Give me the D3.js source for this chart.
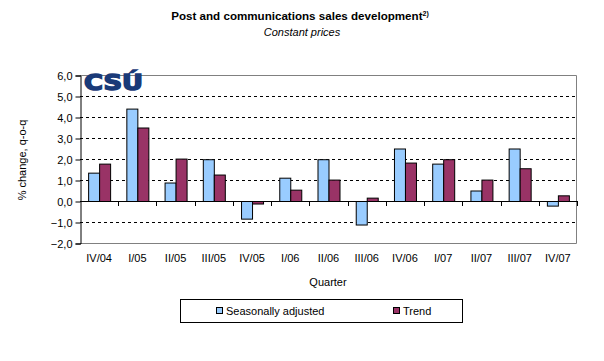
<!DOCTYPE html>
<html>
<head>
<meta charset="utf-8">
<script src="https://cdn.jsdelivr.net/npm/d3@7"></script>
<style>
  body { margin: 0; background: #fff; }
  text { font-family: "Liberation Sans", Arial, sans-serif; fill: #000; }
</style>
</head>
<body>
<svg id="chart" width="604" height="361"></svg>
<script>
const quarters = ['IV/04', 'I/05', 'II/05', 'III/05', 'IV/05', 'I/06', 'II/06', 'III/06', 'IV/06', 'I/07', 'II/07', 'III/07', 'IV/07']
const seasonal = [1.35, 4.4, 0.88, 1.99, -0.84, 1.11, 1.99, -1.12, 2.5, 1.78, 0.5, 2.5, -0.22]
const trend = [1.78, 3.5, 2.02, 1.26, -0.12, 0.54, 1.02, 0.16, 1.83, 1.99, 1.02, 1.56, 0.27]
const yTicks = [-2, -1, 0, 1, 2, 3, 4, 5, 6]
const seriesNames = ['Seasonally adjusted', 'Trend']
const colors = ['#99ccff', '#993366']

const svg = d3.select('#chart')
const plotL = 80, plotR = 577, plotT = 75, plotB = 243

const x = d3.scaleBand().domain(quarters).range([plotL, plotR])
const y = d3.scaleLinear().domain([-2, 6]).range([plotB, plotT])
const barW = 11

// titles
svg.append('text').attr('x', 300).attr('y', 20).attr('text-anchor', 'middle')
  .style('font-size', '11.6px').style('font-weight', 'bold')
  .text('Post and communications sales development')
  .append('tspan').attr('dy', -4).style('font-size', '7px').text('2)')
svg.append('text').attr('x', 302).attr('y', 36).attr('text-anchor', 'middle')
  .style('font-size', '11px').style('font-style', 'italic').text('Constant prices')

// gridlines
svg.selectAll('.grid').data(yTicks.filter(d => d !== 0 && d !== -2 && d !== 6))
  .enter().append('line')
  .attr('x1', plotL).attr('x2', plotR)
  .attr('y1', d => y(d) + 0.5).attr('y2', d => y(d) + 0.5)
  .attr('stroke', '#000').attr('stroke-dasharray', '3,3')

// frame top / right / bottom (grey)
svg.append('path')
  .attr('d', `M${plotL},${plotT + 0.5}H${plotR - 0.5}V${plotB + 0.5}H${plotL}`)
  .attr('fill', 'none').attr('stroke', '#808080')

// logo
svg.append('text').attr('x', 84).attr('y', 90)
  .attr('textLength', 59).attr('lengthAdjust', 'spacingAndGlyphs')
  .style('font-family', '"DejaVu Sans", sans-serif').style('font-weight', 'bold')
  .style('font-size', '22px').style('fill', '#1a3a78')
  .attr('stroke', '#1a3a78').attr('stroke-width', 1.5).text('CSÚ')

// bars
const series = [seasonal, trend]
series.forEach(function(vals, si){
  svg.selectAll('.bar' + si).data(vals).enter().append('rect')
    .attr('x', (d, i) => x(quarters[i]) + x.bandwidth() / 2 - barW + si * barW + 0.5)
    .attr('y', d => y(Math.max(0, d)) + 0.5)
    .attr('width', barW)
    .attr('height', d => Math.abs(y(d) - y(0)))
    .attr('fill', colors[si]).attr('stroke', '#000')
})

// y axis
const yAxis = svg.append('g').attr('transform', `translate(${plotL + 0.5},0.5)`)
  .call(d3.axisLeft(y).tickValues(yTicks).tickSize(5).tickFormat(d => d3.format('.1f')(d).replace('.', ',')))
yAxis.select('.domain').attr('stroke', '#000')
yAxis.selectAll('text').style('font-size', '11px').style('font-family', '"Liberation Sans", Arial, sans-serif').attr('x', -8)

// zero line with ticks below
svg.append('line').attr('x1', plotL).attr('x2', plotR)
  .attr('y1', y(0) + 0.5).attr('y2', y(0) + 0.5).attr('stroke', '#000')
svg.selectAll('.xt').data(quarters.slice(1).concat(['end'])).enter().append('line')
  .attr('x1', (d, i) => Math.round(plotL + (i + 1) * x.step()) + 0.5)
  .attr('x2', (d, i) => Math.round(plotL + (i + 1) * x.step()) + 0.5)
  .attr('y1', y(0)).attr('y2', y(0) + 5).attr('stroke', '#000')

// category labels
svg.selectAll('.cat').data(quarters).enter().append('text')
  .attr('x', d => x(d) + x.bandwidth() / 2).attr('y', 262)
  .attr('text-anchor', 'middle').style('font-size', '11px').text(d => d)

svg.append('text').attr('x', 328).attr('y', 286).attr('text-anchor', 'middle')
  .style('font-size', '11px').text('Quarter')

svg.append('text').attr('transform', 'translate(26,160) rotate(-90)')
  .attr('text-anchor', 'middle').style('font-size', '11px').text('% change, q-o-q')

// legend
svg.append('rect').attr('x', 180.5).attr('y', 299.5).attr('width', 282).attr('height', 23)
  .attr('fill', '#fff').attr('stroke', '#000')
const legX = [216, 393]
seriesNames.forEach(function(n, i){
  svg.append('rect').attr('x', legX[i] + 0.5).attr('y', 307.5).attr('width', 6).attr('height', 6)
    .attr('fill', colors[i]).attr('stroke', '#000')
  svg.append('text').attr('x', legX[i] + 10).attr('y', 315).style('font-size', '11px').text(n)
})
</script>
</body>
</html>
